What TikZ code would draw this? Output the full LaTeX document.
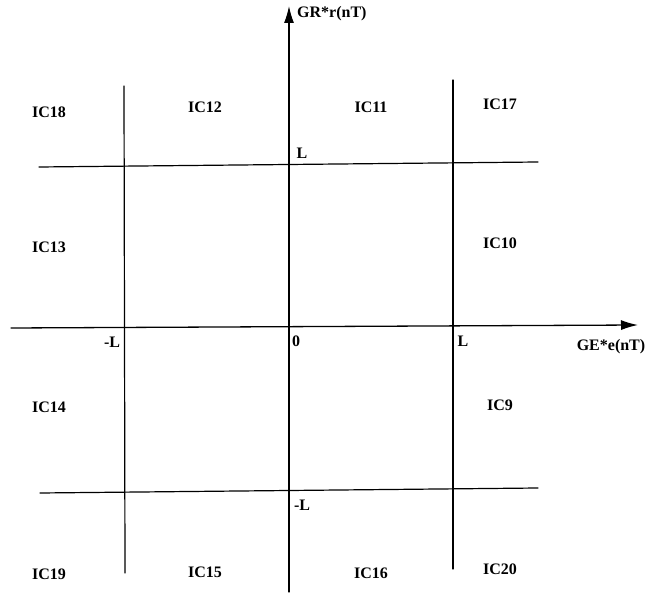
\documentclass[tikz,border=0pt]{standalone}
\usepackage{fontspec}
\setmainfont{Liberation Serif}
\usetikzlibrary{arrows.meta}

\begin{document}
\begin{tikzpicture}[x=1pt, y=-1pt, >={Latex[length=17pt,width=10pt]}, line cap=round, line join=round,
	font=\fontsize{16}{19}\selectfont\bfseries,
	axisline/.style={line width=1.3pt},
	gridline/.style={line width=1.2pt},
	zone/.style={inner sep=0pt}]
	\useasboundingbox (0,0) rectangle (651,593);

	% === TRUC ===
	\coordinate (ax-w) at (11,328);
	\coordinate (ax-e) at (638,325);
	\coordinate (ay-s) at (289,592);
	\coordinate (ay-n) at (289,6);
	\draw[axisline, ->] (ax-w) -- (ax-e);
	\draw[axisline, ->] (ay-s) -- (ay-n);
	\node[zone, anchor=west] (lbl-gr) at (297,14) {GR*r(nT)};
	\node[zone] (lbl-ge) at (611,347) {GE*e(nT)};

	% === LUOI ===
	\coordinate (vl-n) at (124,86);
	\coordinate (vl-s) at (125,573);
	\coordinate (vr-n) at (453,80);
	\coordinate (vr-s) at (453,569);
	\coordinate (hu-w) at (39,167);
	\coordinate (hu-e) at (538,162);
	\coordinate (hd-w) at (40,493);
	\coordinate (hd-e) at (538,488);
	\draw[gridline] (vl-n) -- (vl-s);
	\draw[gridline] (vr-n) -- (vr-s);
	\draw[gridline] (hu-w) -- (hu-e);
	\draw[gridline] (hd-w) -- (hd-e);

	% nhan truc
	\node[zone] (lbl-L) at (302,153) {L};
	\node[zone] (lbl-mL) at (112,342) {-L};
	\node[zone] (lbl-0) at (296,341) {0};
	\node[zone] (lbl-Lx) at (463,341) {L};
	\node[zone] (lbl-mLy) at (302,505) {-L};

	% === VUNG IC ===
	\foreach \nm/\x/\y in {18/49/112, 12/205/107, 11/371/107, 17/500/104,
		13/49/247, 10/500/243, 14/49/407, 9/500/405,
		19/49/574, 15/205/572, 16/371/573, 20/500/569} {
		\node[zone] (ic\nm) at (\x,\y) {IC\nm};
	}
\end{tikzpicture}
\end{document}
